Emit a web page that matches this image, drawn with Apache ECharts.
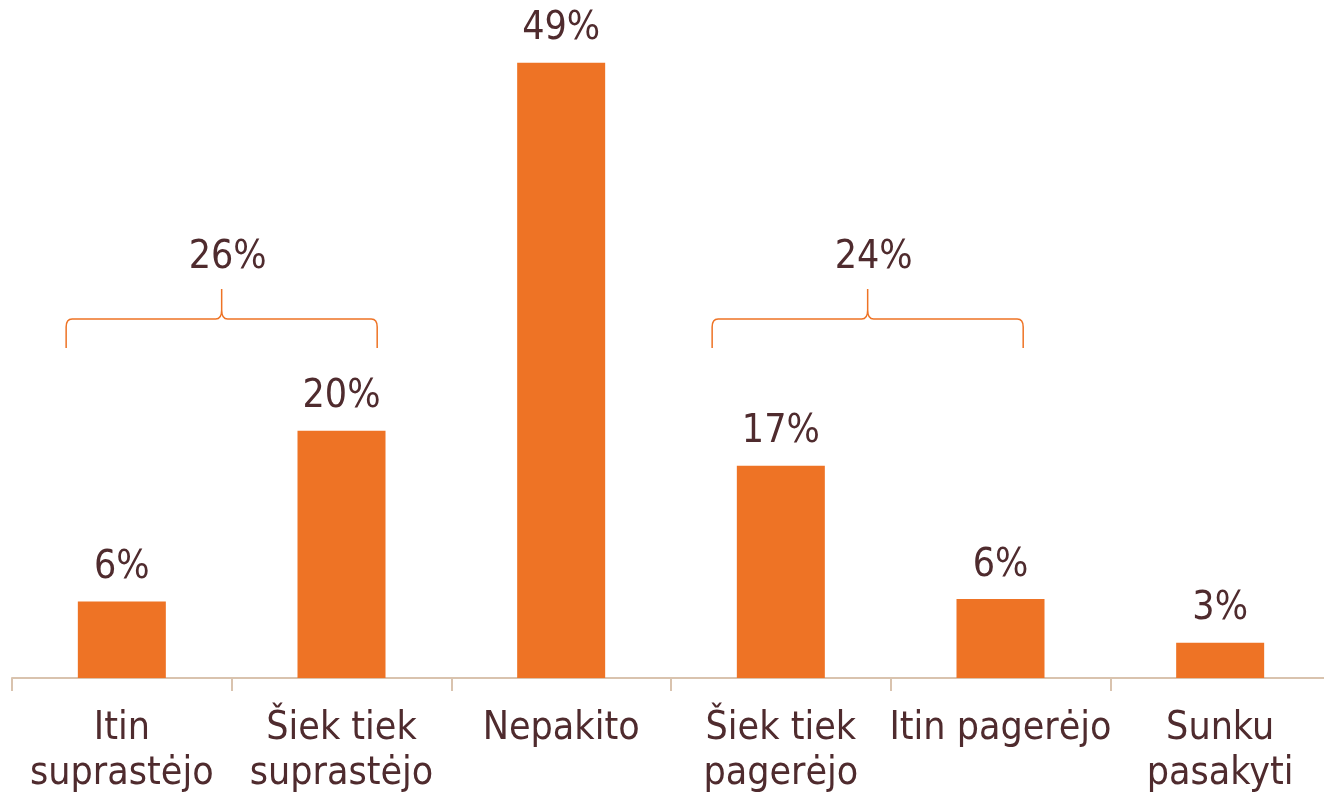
<!DOCTYPE html>
<html>
<head>
<meta charset="utf-8">
<script src="https://cdn.jsdelivr.net/npm/echarts@6/dist/echarts.min.js"></script>
<style>
html,body{margin:0;padding:0;background:#fff;overflow:hidden;width:1324px;height:796px;}
#c{width:1330px;height:796px;}
</style>
</head>
<body>
<div id="c"></div>
<script>
// ---- data ----
const categories = ['Itin\nsuprastėjo', 'Šiek tiek\nsuprastėjo', 'Nepakito', 'Šiek tiek\npagerėjo', 'Itin pagerėjo', 'Sunku\npasakyti'];
const values = [6.1, 19.7, 49, 16.9, 6.3, 2.8];
const valueLabels = ['6%', '20%', '49%', '17%', '6%', '3%'];
const groupStart = [0, 3];
const groupEnd = [1, 4];
const groupLabels = ['26%', '24%'];

const ORANGE = '#ee7325';
const TEXT = '#4f2b2e';
const AXIS = '#d9c3ae';
const FONT = "'DejaVu Sans Condensed', sans-serif";
const BRACKET_LEVEL = 28.6;
const BRACKET_SHIFT = [-10, -23];   // px shift of each bracket from its group centre
const BRACKET_HALF = 0.708;          // half width as fraction of band width

const chart = echarts.init(document.getElementById('c'));
chart.setOption({
  animation: false,
  grid: { left: 12, top: 0, right: 0, bottom: 117, containLabel: false },
  xAxis: {
    type: 'category',
    data: categories,
    axisLine: { lineStyle: { color: AXIS, width: 2 } },
    axisTick: { show: true, length: 13, lineStyle: { color: AXIS, width: 2 } },
    axisLabel: { color: TEXT, fontFamily: FONT, fontSize: 39, lineHeight: 45, margin: 28, interval: 0 }
  },
  yAxis: { type: 'value', min: 0, max: 54, show: false, splitLine: { show: false } },
  series: [
    {
      type: 'bar',
      data: values,
      barWidth: 88,
      itemStyle: { color: ORANGE },
      label: {
        show: true, position: 'top', distance: 14,
        color: TEXT, fontFamily: FONT, fontSize: 39,
        formatter: p => valueLabels[p.dataIndex]
      }
    },
    {
      type: 'custom',
      data: groupStart.map((s, i) => [s, groupEnd[i], i]),
      renderItem: function (params, api) {
        const i = api.value(2);
        const bw = api.size([1, 0])[0];
        const p0 = api.coord([api.value(0), BRACKET_LEVEL]);
        const p1 = api.coord([api.value(1), BRACKET_LEVEL]);
        const xm = (p0[0] + p1[0]) / 2 + BRACKET_SHIFT[i];
        const x0 = xm - BRACKET_HALF * bw;
        const x1 = xm + BRACKET_HALF * bw;
        const y = p0[1];
        const d = `M${x0} ${y + 29} L${x0} ${y + 8} Q${x0} ${y} ${x0 + 6} ${y} L${xm - 6} ${y} Q${xm} ${y} ${xm} ${y - 9} L${xm} ${y - 30} M${xm} ${y - 9} Q${xm} ${y} ${xm + 6} ${y} L${x1 - 6} ${y} Q${x1} ${y} ${x1} ${y + 8} L${x1} ${y + 29}`;
        return {
          type: 'group',
          children: [
            { type: 'path', shape: { pathData: d }, style: { stroke: ORANGE, lineWidth: 1.5, fill: null } },
            { type: 'text', x: xm + 6, y: y - 42, style: { text: groupLabels[i], fill: TEXT, font: `39px ${FONT}`, align: 'center', verticalAlign: 'bottom' } }
          ]
        };
      }
    }
  ]
});
</script>
</body>
</html>
